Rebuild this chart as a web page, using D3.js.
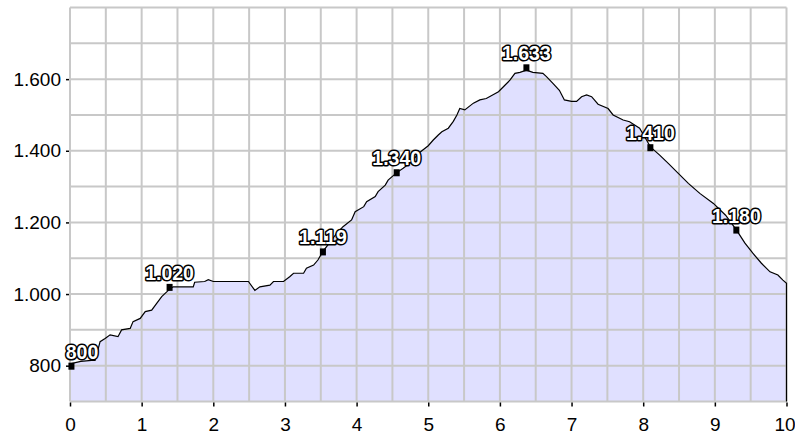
<!DOCTYPE html>
<html>
<head>
<meta charset="utf-8">
<script src="https://cdn.jsdelivr.net/npm/d3@7"></script>
<style>
  html, body { margin: 0; padding: 0; background: #fff; }
  svg { display: block; }
</style>
</head>
<body>
<svg id="chart" width="795" height="435"></svg>
<script>
// ---- data ----
const distance = [0, 0.15, 0.30, 0.35, 0.42, 0.49, 0.56, 0.67, 0.72, 0.84, 0.88, 0.98, 1.05, 1.14, 1.21, 1.28, 1.35, 1.40, 1.44, 1.72,
  1.74, 1.88, 1.93, 2.00, 2.49, 2.58, 2.65, 2.79, 2.84, 2.98, 3.07, 3.12, 3.26, 3.30, 3.40, 3.46, 3.53, 3.60, 3.72, 3.81,
  3.93, 3.98, 4.10, 4.14, 4.26, 4.30, 4.40, 4.44, 4.56, 4.65, 4.74, 4.88, 5.00, 5.07, 5.14, 5.19, 5.28, 5.35, 5.40, 5.44,
  5.51, 5.63, 5.72, 5.81, 5.98, 6.07, 6.14, 6.21, 6.28, 6.37, 6.46, 6.60, 6.65, 6.74, 6.83, 6.90, 7.00, 7.07, 7.14, 7.21,
  7.28, 7.37, 7.51, 7.58, 7.72, 7.81, 7.95, 8.06, 8.10, 8.23, 8.35, 8.49, 8.63, 8.79, 8.98, 9.15, 9.30, 9.42, 9.53, 9.65,
  9.77, 9.88, 9.95, 10.0];
const elevation = [805, 812, 815, 815, 867, 876, 886, 881, 900, 904, 923, 932, 951, 955, 974, 993, 1006, 1016, 1020, 1020,
  1033, 1035, 1040, 1035, 1035, 1010, 1020, 1025, 1035, 1035, 1049, 1058, 1058, 1072, 1081, 1095, 1119, 1137, 1169, 1188,
  1207, 1230, 1244, 1258, 1272, 1286, 1304, 1318, 1339, 1351, 1365, 1395, 1414, 1430, 1444, 1453, 1463, 1482, 1500, 1518,
  1514, 1533, 1542, 1546, 1565, 1583, 1597, 1616, 1619, 1625, 1619, 1616, 1607, 1588, 1569, 1542, 1538, 1538, 1551, 1556,
  1551, 1530, 1518, 1500, 1486, 1481, 1463, 1425, 1411, 1388, 1365, 1337, 1309, 1281, 1253, 1220, 1179, 1142, 1114, 1086,
  1062, 1053, 1039, 1030];

const labelDistance = [0.02, 1.39, 3.53, 4.56, 6.37, 8.10, 9.30];
const labelElevation = [800, 1020, 1119, 1340, 1633, 1410, 1180];

const xTicks = [0, 1, 2, 3, 4, 5, 6, 7, 8, 9, 10];
const yTicks = [800, 1000, 1200, 1400, 1600];
const xDomain = [0, 10];
const yDomain = [700, 1800];

// ---- setup ----
const svg = d3.select("#chart");
const plotL = 70, plotR = 786.5, plotT = 7.5, plotB = 401.5;
const x = d3.scaleLinear().domain(xDomain).range([plotL, plotR]);
const y = d3.scaleLinear().domain(yDomain).range([plotB, plotT]);

const de = d3.formatLocale({ decimal: ",", thousands: ".", grouping: [3], currency: ["", "€"] });
const fmt = de.format(",d");

const pts = distance.map((d, i) => ({ d, e: elevation[i] }));

// area
const area = d3.area().x(p => x(p.d)).y0(y(yDomain[0])).y1(p => y(p.e));
svg.append("path").datum(pts).attr("d", area).attr("fill", "#e0e0ff");

// grid
const grid = svg.append("g").attr("stroke", "#c8c8c8").attr("stroke-width", 2);
d3.range(xDomain[0], xDomain[1] + 0.001, 0.5).forEach(v => {
  grid.append("line").attr("x1", x(v)).attr("x2", x(v)).attr("y1", plotT).attr("y2", plotB);
});
d3.range(yDomain[0], yDomain[1] + 1, 100).forEach(v => {
  grid.append("line").attr("x1", plotL).attr("x2", plotR).attr("y1", y(v)).attr("y2", y(v));
});

// line (profile + drop at the end)
const linePts = pts.concat([{ d: distance[distance.length - 1], e: yDomain[0] }]);
const line = d3.line().x(p => x(p.d)).y(p => y(p.e));
svg.append("path").datum(linePts).attr("d", line)
  .attr("fill", "none").attr("stroke", "#000").attr("stroke-width", 1.2);

// axes
const font = "'Liberation Sans', Arial, sans-serif";
const xAxis = svg.append("g").attr("transform", `translate(0,${plotB + 1})`)
  .call(d3.axisBottom(x).tickValues(xTicks).tickSize(4).tickPadding(11).tickFormat(d3.format("d")));
xAxis.select(".domain").remove();
xAxis.selectAll("text").attr("font-family", font).attr("font-size", 19).attr("fill", "#000")
  .attr("dx", d => d === xDomain[1] ? -2 : 0);
xAxis.selectAll(".tick line").attr("stroke", "#000").attr("stroke-width", 1.5);

const yAxis = svg.append("g").attr("transform", `translate(${plotL - 1},0)`)
  .call(d3.axisLeft(y).tickValues(yTicks).tickSize(3).tickPadding(5).tickFormat(fmt));
yAxis.select(".domain").remove();
yAxis.selectAll("text").attr("font-family", font).attr("font-size", 19).attr("fill", "#000");
yAxis.selectAll(".tick line").attr("stroke", "#000").attr("stroke-width", 1.5);

// markers + labels
const marks = labelDistance.map((d, i) => ({ d, e: labelElevation[i] }));
svg.append("g").selectAll("rect").data(marks).join("rect")
  .attr("x", p => x(p.d) - 3).attr("y", p => y(p.e) - 3)
  .attr("width", 6).attr("height", 7).attr("fill", "#000");

svg.append("g").selectAll("text").data(marks).join("text")
  .attr("x", p => Math.max(x(p.d), 82)).attr("y", p => y(p.e) - 7)
  .attr("text-anchor", "middle")
  .attr("font-family", font).attr("font-size", 19.5).attr("font-weight", "bold")
  .attr("fill", "#fff").attr("stroke", "#000").attr("stroke-width", 3)
  .attr("paint-order", "stroke").attr("stroke-linejoin", "round")
  .text(p => fmt(p.e));
</script>
</body>
</html>
